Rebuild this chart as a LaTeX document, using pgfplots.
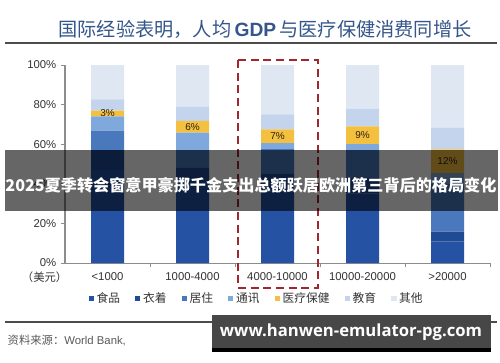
\documentclass[border=0pt]{standalone}
\usepackage{fontspec}
\setmainfont{Liberation Sans}
\newfontfamily\cjk{Noto Sans CJK SC}
\newfontfamily\osans{Open Sans}
\usepackage{pgfplots}
\pgfplotsset{compat=1.18}
\usepackage{pgfplotstable}
\definecolor{cfood}{HTML}{2552A3}
\definecolor{ccloth}{HTML}{1F4A94}
\definecolor{chouse}{HTML}{4A78BD}
\definecolor{ccomm}{HTML}{7FA8DC}
\definecolor{cmed}{HTML}{F4C040}
\definecolor{cedu}{HTML}{C3D4EC}
\definecolor{cother}{HTML}{DFE7F3}
\definecolor{ctitle}{HTML}{34568A}
\definecolor{cbox}{HTML}{A3262C}
\definecolor{cwm}{HTML}{474747}
\definecolor{caxis}{HTML}{8C8C8C}
\definecolor{ctext}{HTML}{333333}

\pgfplotstableread{
x food cloth house comm med edu other
0 47 10 9.8 7.2 3 5.7 17.3
1 40 8 9 8.8 6 7.2 21
2 36 9 12.5 3 7 7.6 24.9
3 35 8 14 3 9 9 22
4 10.8 5 24.2 5.4 12 10.8 31.8
}\datatable

\pgfplotstableread{
x y lbl
0 75.5 3
1 68.8 6
2 64 7
3 64.5 9
4 51.4 12
}\lbltable

\begin{document}
\begin{tikzpicture}
\path[use as bounding box, fill=white] (0,0) rectangle (375pt,271.5pt);
\begin{axis}[
  at={(48.75pt,74.25pt)}, anchor=south west,
  scale only axis, width=318.75pt, height=148.5pt,
  ybar stacked, bar width=24.75pt,
  xmin=-0.5, xmax=4.5, ymin=0, ymax=100,
  axis lines*=left,
  axis line style={draw=caxis, line width=0.75pt},
  xtick={0,1,2,3,4},
  xticklabels={<1000,1000-4000,4000-10000,10000-20000,>20000},
  major x tick style={draw=none},
  minor xtick={0.5,1.5,2.5,3.5,4.5},
  minor x tick style={draw=caxis, line width=0.6pt},
  minor tick length=3pt,
  ytick={0,20,40,60,80,100},
  yticklabel={\pgfmathprintnumber{\tick}\%},
  y tick style={draw=caxis, line width=0.6pt},
  major tick length=3pt,
  tick align=outside,
  /pgf/number format/assume math mode=true,
  tick label style={font=\fontsize{8.5}{10}\selectfont, text=ctext},
  xticklabel style={yshift=-1pt},
  legend style={at={(0.452,-0.177)}, anchor=center, draw=none, fill=none,
    font=\cjk\fontsize{8.8}{10}\selectfont, text=ctext,
    nodes={text height=1.6ex, text depth=0.35ex},
    /tikz/every even column/.append style={column sep=9.5pt}},
  legend columns=-1,
  legend image code/.code={\fill[#1] (0pt,-1.9pt) rectangle (3.8pt,1.9pt);},
]
\addplot[fill=cfood, draw=none] table[x=x,y=food] {\datatable};
\addplot[fill=ccloth, draw=none] table[x=x,y=cloth] {\datatable};
\addplot[fill=chouse, draw=none] table[x=x,y=house] {\datatable};
\addplot[fill=ccomm, draw=none] table[x=x,y=comm] {\datatable};
\addplot[fill=cmed, draw=none] table[x=x,y=med] {\datatable};
\addplot[fill=cedu, draw=none] table[x=x,y=edu] {\datatable};
\addplot[fill=cother, draw=none] table[x=x,y=other] {\datatable};
\legend{食品,衣着,居住,通讯,医疗保健,教育,其他}
\end{axis}
\begin{axis}[
  at={(48.75pt,74.25pt)}, anchor=south west,
  scale only axis, width=318.75pt, height=148.5pt,
  xmin=-0.5, xmax=4.5, ymin=0, ymax=100, hide axis,
]
\addplot[draw=none, mark=none, nodes near coords={\pgfplotspointmeta\%},
  point meta=explicit symbolic,
  every node near coord/.style={anchor=center, font=\fontsize{7.5}{9}\selectfont, text=black!75!brown}]
  table[x=x,y=y,meta=lbl] {\lbltable};
\end{axis}
\begin{scope}[x=0.75pt,y=-0.75pt,yshift=271.5pt]
  % title
  \node[text=ctitle, font=\fontsize{14.4}{16}\selectfont] at (265,29)
    {{\cjk 国际经验表明，人均}\,\textbf{GDP}\,{\cjk 与医疗保健消费同增长}};
  \draw[draw=black!70, line width=1.1pt] (5,43) -- (497,43);
  % unit
  \node[anchor=east, text=ctext, font=\cjk\fontsize{8.5}{10}\selectfont] at (72,277) {（美元）};
  % dashed highlight box
  \draw[cbox, line width=1.4pt, dash pattern=on 6pt off 3.5pt] (238,60) rectangle (318,288);
  % bottom rule and source
  \draw[draw=black!70, line width=0.8pt] (5,322) -- (497,322);
  \node[anchor=west, text=black!65, font=\fontsize{8.5}{10}\selectfont] at (3,340)
    {{\cjk 资料来源：}World Bank,};
  % banner overlay
  \fill[black, opacity=0.6] (5,150) rectangle (498,211);
  \node[text=white, font=\cjk\bfseries\fontsize{12.1}{13}\selectfont] at (251,185)
    {2025夏季转会窗意甲豪掷千金支出总额跃居欧洲第三背后的格局变化};
  % watermark box
  \fill[cwm] (212,315) rectangle (491,352);
  \fill[black] (212,348) rectangle (491,352);
  \node[text=white, font=\osans\bfseries\fontsize{12.5}{14}\selectfont] at (351,332)
    {www.hanwen-emulator-pg.com};
\end{scope}
\end{tikzpicture}
\end{document}
